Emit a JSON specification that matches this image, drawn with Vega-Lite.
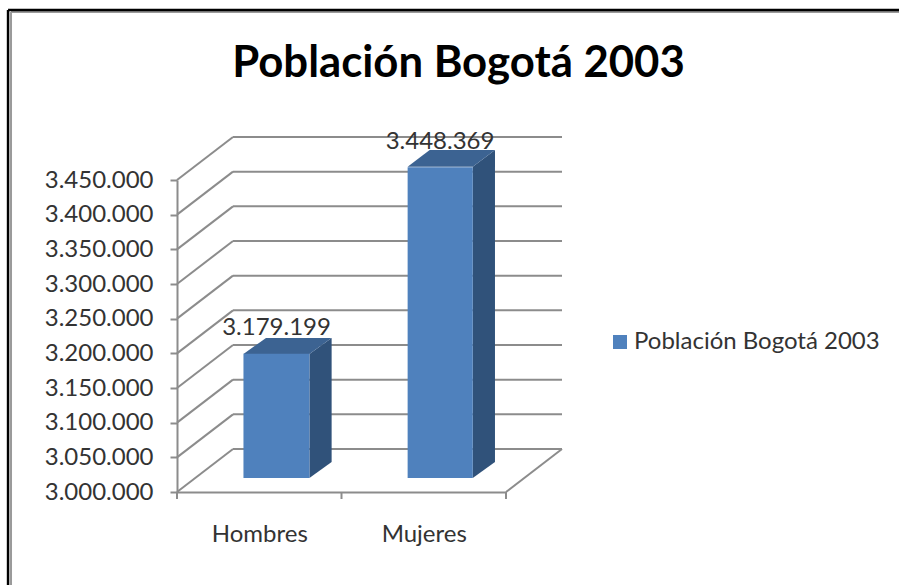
{
"$schema":"https://vega.github.io/schema/vega-lite/v6.json",
"width":329,"height":312,
"autosize":{"type":"none"},
"padding":{"left":177,"top":180,"right":393,"bottom":93},
"background":"white",
"config":{"view":{"stroke":null},"font":"Lato"},
"title":{"text":"Población Bogotá 2003","font":"Lato","fontSize":43.7,"fontWeight":"bold","color":"#000000","anchor":"middle","frame":"group","dx":117,"offset":-77},
"datasets":{
"poblacion":[
{"Categoria":"Hombres","Poblacion":3179199,"Etiqueta":"3.179.199","Serie":"Población Bogotá 2003","Inicio":0.404,"Fin":0.805,"Centro":0.605},
{"Categoria":"Mujeres","Poblacion":3448369,"Etiqueta":"3.448.369","Serie":"Población Bogotá 2003","Inicio":1.402,"Fin":1.798,"Centro":1.599}],
"rejilla":[{"v":3000000},{"v":3050000},{"v":3100000},{"v":3150000},{"v":3200000},{"v":3250000},{"v":3300000},{"v":3350000},{"v":3400000},{"v":3450000}],
"lateral":[
{"Barra":"Hombres","x":0.805,"a":3199037,"b":3020192},{"Barra":"Hombres","x":0.94,"a":3222114,"b":3043269},
{"Barra":"Mujeres","x":1.798,"a":3469180,"b":3020192},{"Barra":"Mujeres","x":1.933,"a":3493267,"b":3043269}],
"superior":[
{"Barra":"Hombres","x":0.404,"a":3199037,"b":3199037},{"Barra":"Hombres","x":0.541,"a":3222114,"b":3199037},{"Barra":"Hombres","x":0.805,"a":3222114,"b":3199037},{"Barra":"Hombres","x":0.94,"a":3222114,"b":3222114},
{"Barra":"Mujeres","x":1.402,"a":3469180,"b":3469180},{"Barra":"Mujeres","x":1.536,"a":3493267,"b":3469180},{"Barra":"Mujeres","x":1.798,"a":3493267,"b":3469180},{"Barra":"Mujeres","x":1.933,"a":3493267,"b":3493267}],
"marco":[{"x":-1.027,"x2":-1.027,"y":3695192,"y2":2865865},{"x":-1.027,"x2":4.39,"y":3695192,"y2":3695192}],
"marcoGris":[{"x":-1.009,"x2":-1.009,"y":3692300,"y2":2865865},{"x":-1.009,"x2":4.39,"y":3692300,"y2":3692300}],
"pie":[{"x":0},{"x":1},{"x":2}]
},
"layer":[
{"data":{"name":"marcoGris"},"mark":{"type":"rule","strokeWidth":2,"color":"#9a9a9a"},
 "encoding":{"x":{"field":"x","type":"quantitative","scale":{"domain":[0,2]},
   "axis":{"values":[0.5,1.5],"title":null,"ticks":false,"grid":false,"domainColor":"#8c8c8c","domainWidth":2,"labelExpr":"datum.value<1?'Hombres':'Mujeres'","labelFont":"Lato","labelFontSize":24,"labelColor":"#333333","labelPadding":30}},
  "x2":{"field":"x2"},
  "y":{"field":"y","type":"quantitative","scale":{"domain":[3000000,3450000],"nice":false},
   "axis":{"values":[3000000,3050000,3100000,3150000,3200000,3250000,3300000,3350000,3400000,3450000],"tickCount":10,"title":null,"grid":false,"labelOverlap":false,"domainColor":"#8c8c8c","domainWidth":2,"tickColor":"#8c8c8c","tickWidth":2,"tickSize":7,"labelPadding":17,"labelExpr":"replace(format(datum.value,','),/,/g,'.')","labelFont":"Lato","labelFontSize":24,"labelColor":"#333333"}},
  "y2":{"field":"y2"}}},
{"data":{"name":"marco"},"mark":{"type":"rule","strokeWidth":2.5,"color":"#000000"},
 "encoding":{"x":{"field":"x","type":"quantitative"},"x2":{"field":"x2"},"y":{"field":"y","type":"quantitative"},"y2":{"field":"y2"}}},
{"data":{"name":"rejilla"},"mark":{"type":"rule","color":"#8c8c8c","strokeWidth":2,"x2Offset":56,"y2Offset":-43},
 "encoding":{"x":{"datum":0,"type":"quantitative"},"x2":{"datum":0},"y":{"field":"v","type":"quantitative"},"y2":{"field":"v"}}},
{"data":{"name":"rejilla"},"mark":{"type":"rule","color":"#8c8c8c","strokeWidth":2,"xOffset":56,"x2Offset":56,"yOffset":-43},
 "encoding":{"x":{"datum":0,"type":"quantitative"},"x2":{"datum":2},"y":{"field":"v","type":"quantitative"}}},
{"data":{"values":[{"v":3000000}]},"mark":{"type":"rule","color":"#8c8c8c","strokeWidth":2,"x2Offset":56,"y2Offset":-43},
 "encoding":{"x":{"datum":2,"type":"quantitative"},"x2":{"datum":2},"y":{"field":"v","type":"quantitative"},"y2":{"field":"v"}}},
{"data":{"name":"pie"},"mark":{"type":"rule","color":"#8c8c8c","strokeWidth":2,"y2Offset":7},
 "encoding":{"x":{"field":"x","type":"quantitative"},"y":{"datum":3000000,"type":"quantitative"},"y2":{"datum":3000000}}},
{"data":{"name":"lateral"},"mark":{"type":"area","fill":"#30527a"},
 "encoding":{"x":{"field":"x","type":"quantitative"},"y":{"field":"a","type":"quantitative"},"y2":{"field":"b"},"detail":{"field":"Barra"}}},
{"data":{"name":"superior"},"mark":{"type":"area","fill":"#3c6392"},
 "encoding":{"x":{"field":"x","type":"quantitative"},"y":{"field":"a","type":"quantitative"},"y2":{"field":"b"},"detail":{"field":"Barra"}}},
{"data":{"name":"poblacion"},"mark":{"type":"rect","yOffset":-14,"y2Offset":-14},
 "encoding":{"x":{"field":"Inicio","type":"quantitative"},"x2":{"field":"Fin"},"y":{"field":"Poblacion","type":"quantitative"},"y2":{"datum":3000000},
  "color":{"field":"Serie","type":"nominal","scale":{"range":["#4f81bd"]},"legend":{"title":null,"orient":"none","legendX":431,"legendY":150,"symbolType":"square","symbolSize":196,"labelFont":"Lato","labelFontSize":24,"labelColor":"#333333","labelOffset":2,"labelLimit":320}}}},
{"data":{"name":"poblacion"},"mark":{"type":"text","dy":-39.5,"font":"Lato","fontSize":24,"color":"#333333"},
 "encoding":{"x":{"field":"Centro","type":"quantitative"},"y":{"field":"Poblacion","type":"quantitative"},"text":{"field":"Etiqueta"}}}
]
}
